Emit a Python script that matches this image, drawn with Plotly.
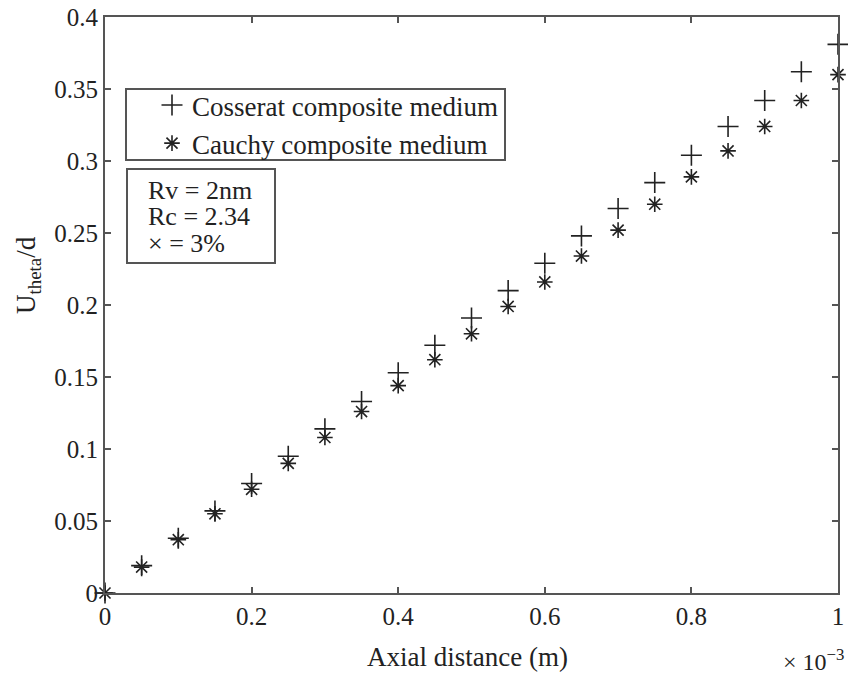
import plotly.graph_objects as go

# Data (axial distance in units of 1e-3 m)
axial_distance = [0.0, 0.05, 0.10, 0.15, 0.20, 0.25, 0.30, 0.35, 0.40, 0.45, 0.50,
                  0.55, 0.60, 0.65, 0.70, 0.75, 0.80, 0.85, 0.90, 0.95, 1.00]
cosserat = [0.0, 0.019, 0.038, 0.057, 0.076, 0.095, 0.114, 0.133, 0.153, 0.172, 0.191,
            0.210, 0.229, 0.248, 0.267, 0.285, 0.304, 0.324, 0.342, 0.362, 0.381]
cauchy = [0.0, 0.018, 0.037, 0.055, 0.072, 0.090, 0.108, 0.126, 0.144, 0.162, 0.180,
          0.199, 0.216, 0.234, 0.252, 0.270, 0.289, 0.307, 0.324, 0.342, 0.360]

x_tickvals = [0, 0.2, 0.4, 0.6, 0.8, 1.0]
x_ticktext = ["0", "0.2", "0.4", "0.6", "0.8", "1"]
y_tickvals = [0, 0.05, 0.1, 0.15, 0.2, 0.25, 0.3, 0.35, 0.4]
y_ticktext = ["0", "0.05", "0.1", "0.15", "0.2", "0.25", "0.3", "0.35", "0.4"]

info_lines = ["Rv = 2nm", "Rc = 2.34", "× = 3%"]

FONT = "Liberation Serif, Times New Roman, serif"
INK = "#222222"
AXIS = "#555555"

OFF = 8  # default page body margin
W, H = 856 - OFF, 675 - OFF
L, R, T, B = 105 - OFF, 18, 17 - OFF, 82
PW, PH = W - L - R, H - T - B


def px(xp):
    # page pixel x -> paper coordinate
    return (xp - OFF - L) / PW


def py(yp):
    # page pixel y -> paper coordinate
    return (OFF + H - B - yp) / PH


fig = go.Figure()
fig.add_trace(go.Scatter(
    x=axial_distance, y=cosserat, mode="markers", name="Cosserat composite medium",
    marker=dict(symbol="cross-thin-open", size=15, color=INK, line=dict(width=1.6, color=INK)),
    cliponaxis=False,
))
fig.add_trace(go.Scatter(
    x=axial_distance, y=cauchy, mode="markers", name="Cauchy composite medium",
    marker=dict(symbol="asterisk-open", size=13, color=INK, line=dict(width=1.6, color=INK)),
    cliponaxis=False,
))

shapes = [
    dict(type="rect", xref="paper", yref="paper",
         x0=px(126), x1=px(505), y0=py(160), y1=py(89),
         line=dict(color=AXIS, width=2), fillcolor="white", layer="below"),
    dict(type="rect", xref="paper", yref="paper",
         x0=px(127), x1=px(275), y0=py(263), y1=py(169),
         line=dict(color=AXIS, width=2), fillcolor="white", layer="below"),
]

annotations = []
for yp, line in zip([190, 216, 243], info_lines):
    annotations.append(dict(
        text=line, xref="paper", yref="paper", x=px(146), y=py(yp),
        xanchor="left", yanchor="middle", showarrow=False,
        font=dict(family=FONT, size=26, color=INK),
    ))
annotations.append(dict(
    text="× 10<sup>−3</sup>", xref="paper", yref="paper", x=px(846), y=py(660),
    xanchor="right", yanchor="middle", showarrow=False,
    font=dict(family=FONT, size=24, color=INK),
))
annotations.append(dict(
    text="Axial distance (m)", xref="paper", yref="paper", x=px(467), y=py(657),
    xanchor="center", yanchor="middle", showarrow=False,
    font=dict(family=FONT, size=27, color=INK),
))
annotations.append(dict(
    text="U<sub>theta</sub>/d", xref="paper", yref="paper", x=px(28), y=py(275),
    xanchor="center", yanchor="middle", showarrow=False, textangle=-90,
    font=dict(family=FONT, size=27, color=INK),
))

fig.update_layout(
    width=W, height=H,
    margin=dict(l=L, r=R, t=T, b=B),
    paper_bgcolor="white", plot_bgcolor="white",
    font=dict(family=FONT, size=25, color=INK),
    showlegend=True,
    legend=dict(
        x=px(152), y=py(81), xanchor="left", yanchor="top",
        bgcolor="rgba(0,0,0,0)", borderwidth=0,
        font=dict(family=FONT, size=27, color=INK),
        tracegroupgap=0, itemsizing="trace",
    ),
    shapes=shapes,
    annotations=annotations,
    xaxis=dict(
        range=[0, 1], tickvals=x_tickvals, ticktext=x_ticktext,
        showgrid=False, zeroline=False, showline=True, linecolor=AXIS, linewidth=2,
        mirror="ticks", ticks="inside", ticklen=6, tickwidth=1.5, tickcolor=AXIS,
        tickfont=dict(family=FONT, size=25, color=INK),
        ticklabeloverflow="allow",
        automargin=False,
    ),
    yaxis=dict(
        range=[0, 0.4], tickvals=y_tickvals, ticktext=y_ticktext,
        showgrid=False, zeroline=False, showline=True, linecolor=AXIS, linewidth=2,
        mirror="ticks", ticks="inside", ticklen=6, tickwidth=1.5, tickcolor=AXIS,
        tickfont=dict(family=FONT, size=25, color=INK),
        ticklabeloverflow="allow",
        automargin=False,
    ),
)

fig.write_html("out.html")
